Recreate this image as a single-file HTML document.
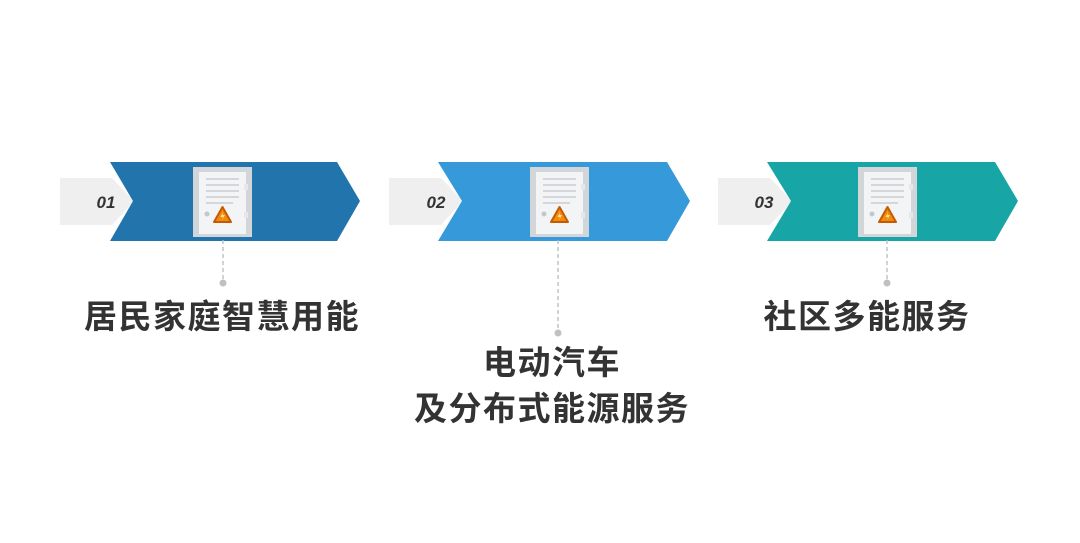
<!DOCTYPE html>
<html><head><meta charset="utf-8"><style>
html,body{margin:0;padding:0;background:#fff;}
svg{display:block}
text{font-family:"Liberation Sans","Noto Sans CJK SC",sans-serif;}
.t{font-size:33px;font-weight:bold;fill:#333;letter-spacing:1.5px;}
</style></head><body>
<svg width="1080" height="543" viewBox="0 0 1080 543">
<defs>
<g id="icon">
  <rect x="0" y="0" width="59" height="70" fill="#d3d6d9"/>
  <rect x="6" y="5" width="47" height="62" fill="#f3f4f6"/>
  <rect x="51" y="17" width="4" height="6" fill="#e6e7e9"/>
  <rect x="51" y="45" width="4" height="6" fill="#e6e7e9"/>
  <g stroke="#c9ccd0" stroke-width="1.6">
    <line x1="13" y1="12" x2="46" y2="12"/>
    <line x1="13" y1="18" x2="46" y2="18"/>
    <line x1="13" y1="24" x2="46" y2="24"/>
    <line x1="13" y1="30" x2="46" y2="30"/>
    <line x1="13" y1="36" x2="40" y2="36"/>
  </g>
  <circle cx="14" cy="47" r="2.5" fill="#c4c7cb"/>
  <path d="M29.5 40 L38 55 L21 55 Z" fill="#f08a12" stroke="#c55a00" stroke-width="2" stroke-linejoin="round"/>
  <path d="M30 45 L27.5 50 L30 50 L29 53 L32 48 L29.5 48 Z" fill="#ffe27a"/>
</g>
</defs>

<g>
  <path d="M60 178 L112 178 L134 201 L112 225 L60 225 Z" fill="#efefef"/>
  <path d="M110 162 L337 162 L360 201 L337 241 L110 241 L133 201 Z" fill="#2274ad"/>
  <text x="106" y="208" font-size="17" font-weight="bold" font-style="italic" fill="#333" text-anchor="middle">01</text>
  <use href="#icon" x="193" y="167"/>
  <line x1="223" y1="240" x2="223" y2="281" stroke="#bbb" stroke-width="1.3" stroke-dasharray="4,3"/>
  <circle cx="223" cy="283" r="3.5" fill="#c0c0c0"/>
  <text class="t" x="222" y="328" text-anchor="middle">居民家庭智慧用能</text>
</g>

<g>
  <path d="M389 178 L441 178 L463 201 L441 225 L389 225 Z" fill="#efefef"/>
  <path d="M438 162 L667 162 L690 201 L667 241 L438 241 L462 201 Z" fill="#3699da"/>
  <text x="436" y="208" font-size="17" font-weight="bold" font-style="italic" fill="#333" text-anchor="middle">02</text>
  <use href="#icon" x="530" y="167"/>
  <line x1="558" y1="240" x2="558" y2="331" stroke="#bbb" stroke-width="1.3" stroke-dasharray="4,3"/>
  <circle cx="558" cy="333" r="3.5" fill="#c0c0c0"/>
  <text class="t" x="552" y="374" text-anchor="middle">电动汽车</text>
  <text class="t" x="552" y="420" text-anchor="middle">及分布式能源服务</text>
</g>

<g>
  <path d="M718 178 L770 178 L792 201 L770 225 L718 225 Z" fill="#efefef"/>
  <path d="M767 162 L995 162 L1018 201 L995 241 L767 241 L791 201 Z" fill="#18a5a6"/>
  <text x="764" y="208" font-size="17" font-weight="bold" font-style="italic" fill="#333" text-anchor="middle">03</text>
  <use href="#icon" x="858" y="167"/>
  <line x1="887" y1="240" x2="887" y2="281" stroke="#bbb" stroke-width="1.3" stroke-dasharray="4,3"/>
  <circle cx="887" cy="283" r="3.5" fill="#c0c0c0"/>
  <text class="t" x="867" y="328" text-anchor="middle">社区多能服务</text>
</g>
</svg>
</body></html>
